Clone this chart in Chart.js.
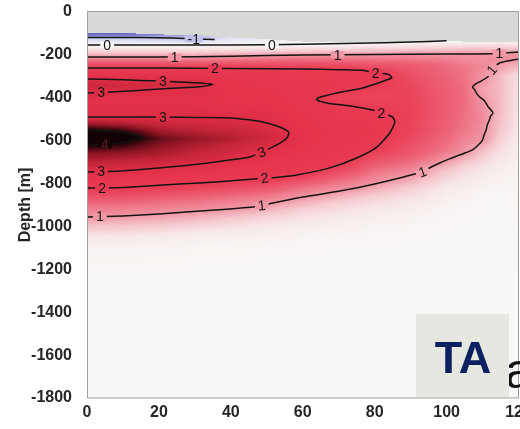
<!DOCTYPE html>
<html>
<head>
<meta charset="utf-8">
<script src="https://cdn.jsdelivr.net/npm/chart.js@4.4.1/dist/chart.umd.min.js"></script>
<style>
  html, body { margin: 0; padding: 0; overflow: hidden; background: #ffffff; }
  #wrap { position: relative; width: 532px; height: 429px; }
</style>
</head>
<body>
<div id="wrap"><canvas id="chart"></canvas></div>
<script>
// Axis ticks: distance along the section and depth (m)
const distanceTicks = [0, 20, 40, 60, 80, 100, 120];
const depthTicks = [0, -200, -400, -600, -800, -1000, -1200, -1400, -1600, -1800];

// Anomaly profiles: one per station column, [depth, value] knots from the top of the data down
const stationX = [0, 10, 20, 30, 40, 50, 60, 70, 80, 90, 100, 105, 110, 115, 120];
const prof000 = [[-98,-1.95],[-110,-1.6],[-119,-1],[-154,0],[-190,0.6],[-210,1],[-261,2],[-290,2.6],[-312,3],[-345,3.2],[-378,3],[-420,2.75],[-490,3],[-550,4],[-585,4.4],[-622,4],[-660,3.6],[-746,3],[-821,2],[-900,1.3],[-956,1],[-1000,0.65],[-1050,0.25],[-1110,0.05],[-1300,0]];
const prof010 = [[-98,-1.9],[-110,-1.55],[-119,-1],[-154,0],[-190,0.6],[-210,1],[-261,2],[-292,2.6],[-316,3],[-345,3.15],[-370,3],[-425,2.75],[-490,3],[-562,4],[-585,4.2],[-608,4],[-660,3.55],[-740,3],[-818,2],[-900,1.3],[-951,1],[-1000,0.62],[-1050,0.24],[-1110,0.05],[-1300,0]];
const prof020 = [[-104,-1.5],[-121,-1],[-154,0],[-190,0.6],[-210,1],[-261,2],[-295,2.6],[-322,3],[-340,3.1],[-359,3],[-425,2.75],[-490,3],[-590,3.75],[-670,3.4],[-727,3],[-808,2],[-890,1.3],[-942,1],[-995,0.6],[-1045,0.22],[-1100,0.05],[-1300,0]];
const prof030 = [[-110,-1.2],[-127,-1],[-154,0],[-190,0.6],[-210,1],[-262,2],[-300,2.65],[-330,3],[-339,3.05],[-348,3],[-425,2.75],[-492,3],[-590,3.55],[-680,3.2],[-711,3],[-798,2],[-880,1.3],[-930,1],[-985,0.58],[-1035,0.2],[-1095,0.04],[-1300,0]];
const prof040 = [[-118,-0.6],[-154,0],[-188,0.6],[-206,1],[-263,2],[-310,2.55],[-430,2.7],[-494,3],[-590,3.4],[-690,3],[-787,2],[-865,1.3],[-917,1],[-970,0.55],[-1025,0.2],[-1090,0.04],[-1300,0]];
const prof050 = [[-126,-0.35],[-153,0],[-186,0.6],[-204,1],[-265,2],[-330,2.5],[-420,2.65],[-518,3],[-585,3.2],[-642,3],[-774,2],[-850,1.3],[-897,1],[-955,0.5],[-1015,0.18],[-1085,0.03],[-1300,0]];
const prof060 = [[-138,-0.1],[-150,0],[-183,0.6],[-200,1],[-266,2],[-350,2.4],[-450,2.5],[-590,2.8],[-754,2],[-818,1.3],[-863,1],[-925,0.5],[-995,0.18],[-1070,0.03],[-1300,0]];
const prof070 = [[-142,-0.05],[-147,0],[-181,0.6],[-199,1],[-269,2],[-320,2.2],[-376,2],[-405,1.85],[-432,2],[-560,2.4],[-712,2],[-790,1.3],[-836,1],[-895,0.5],[-970,0.18],[-1050,0.03],[-1300,0]];
const prof080 = [[-140,-0.05],[-143,0],[-178,0.6],[-198,1],[-282,2],[-308,2.1],[-335,2],[-400,1.8],[-460,2],[-540,2.2],[-635,2],[-740,1.3],[-802,1],[-865,0.5],[-940,0.18],[-1030,0.03],[-1300,0]];
const prof090 = [[-138,-0.03],[-140,0],[-175,0.6],[-196,1],[-250,1.55],[-330,1.75],[-450,1.85],[-560,1.8],[-660,1.55],[-760,1],[-820,0.55],[-900,0.2],[-1000,0.03],[-1300,0]];
const prof100 = [[-135,0],[-172,0.6],[-196,1],[-250,1.35],[-400,1.5],[-550,1.45],[-640,1.25],[-691,1],[-750,0.55],[-830,0.2],[-940,0.03],[-1300,0]];
const prof105 = [[-138,0.05],[-170,0.6],[-194,1],[-260,1.25],[-400,1.35],[-550,1.25],[-658,1],[-720,0.5],[-800,0.2],[-900,0.03],[-1300,0]];
const prof110 = [[-138,0.1],[-170,0.6],[-195,1],[-250,1.1],[-319,1],[-365,0.9],[-413,1],[-500,1.1],[-597,1],[-660,0.6],[-740,0.25],[-850,0.03],[-1300,0]];
const prof115 = [[-138,0.15],[-170,0.6],[-192,1],[-215,1.05],[-236,1],[-300,0.7],[-450,0.72],[-560,0.6],[-650,0.35],[-750,0.12],[-850,0.02],[-1300,0]];
const prof120 = [[-138,0.1],[-170,0.6],[-189,1],[-205,1.02],[-219,1],[-300,0.35],[-500,0.3],[-650,0.15],[-800,0.04],[-1300,0]];
const profiles = [prof000, prof010, prof020, prof030, prof040, prof050, prof060, prof070, prof080, prof090, prof100, prof105, prof110, prof115, prof120];

// Contour lines, [distance, depth] vertices
const contourNeg1 = [[0,-119],[15,-119],[24,-121],[30,-126],[35.5,-128]];
const contour0 = [[0,-154],[30,-154],[50,-153],[60,-150],[75,-146],[90,-140],[100,-134]];
const contour1Top = [[0,-210],[20,-210],[40,-206],[60,-200],[80,-198],[100,-196],[112,-195],[120,-186]];
const contour1Low = [[120,-219],[117,-228],[114.7,-238],[113,-262],[112.4,-285],[111.4,-303],[109.6,-322],[108,-336],[107.2,-350],[107.8,-362],[108.3,-378],[109.2,-396],[110.6,-415],[111.2,-432],[111.6,-443],[112.4,-458],[112.9,-471],[112.2,-487],[111.9,-504],[111.3,-527],[111.0,-550],[110.4,-575],[110,-597],[108.8,-620],[107.2,-643],[105.5,-655],[103.6,-667],[100.8,-685],[98.1,-704],[95.5,-725],[93.3,-746],[90,-760],[86.9,-774],[80,-802],[70.3,-835],[60,-863],[51.7,-891],[46.1,-909],[31.4,-928],[20,-942],[10,-951],[0,-956]];
const contour2 = [[0,-821],[10,-818],[20,-808],[31.4,-797],[42,-785],[49.4,-774],[51.7,-773],[58.3,-760],[67.5,-727],[75,-681],[80.6,-630],[84.2,-564],[85.6,-513],[85,-490],[81.9,-471],[79.4,-457],[75,-443],[66.7,-424],[63.9,-410],[64.2,-401],[69.4,-378],[76.7,-354],[84.7,-308],[84.2,-294],[82.5,-287],[80.3,-284],[76.7,-272],[70,-269],[60,-266],[40,-263],[20,-261],[0,-261]];
const contour3Upper = [[0,-312],[10,-316],[20,-322],[31.4,-331],[35,-337],[31.4,-349],[20,-359],[8,-372],[0,-378]];
const contour3Lower = [[0,-490],[20,-490],[31.4,-492],[40,-494],[45,-503],[48.9,-513],[53.6,-536],[56.1,-560],[55.6,-588],[52.8,-620],[48.6,-653],[45.3,-676],[39.7,-690],[31.4,-709],[20,-727],[9.2,-741],[0,-746]];
const contour4 = [[0,-550],[7,-555],[12,-567],[15.3,-585],[12,-603],[7,-615],[0,-622]];

// Inline contour labels
const labelText  = ['-1','0','0','1','1','1','1','1','1','1','2','2','2','2','2','3','3','3','3','3','4'];
const labelX     = [29.7, 5.6, 51.4, 24.4, 69.7, 114.7, 112.6, 93.3, 48.6, 3.6, 35.6, 80.3, 81.9, 49.4, 4.2, 21.1, 3.9, 21.1, 48.6, 3.9, 5];
const labelDepth = [-125, -154, -153, -210, -199, -191, -270, -746, -901, -954, -263, -284, -471, -774, -820, -323, -375, -490, -653, -744, -617];
const labelAngle = [0, 0, 0, 0, 0, 0, -50, -20, -5, 0, 0, 0, 0, -8, 0, 0, 0, 0, -20, 0, 0];

// Diverging colour scale: blue (negative) - white - red - black
const colourStops = [
  [-2.0, [95, 95, 190]],
  [-1.5, [130, 130, 210]],
  [-1.0, [195, 195, 235]],
  [-0.5, [228, 228, 243]],
  [0.0, [248, 247, 245]],
  [0.3, [247, 228, 230]],
  [0.6, [245, 200, 207]],
  [1.0, [241, 150, 163]],
  [1.4, [237, 100, 120]],
  [1.8, [234, 68, 92]],
  [2.0, [232, 58, 82]],
  [2.6, [230, 52, 77]],
  [3.0, [222, 46, 70]],
  [3.3, [195, 36, 56]],
  [3.6, [140, 20, 35]],
  [3.9, [50, 6, 12]],
  [4.0, [18, 2, 5]]
];
const maskColour = [215, 217, 214];

function colourFor(v) {
  if (v <= colourStops[0][0]) return colourStops[0][1];
  for (let k = 1; k < colourStops.length; k++) {
    if (v <= colourStops[k][0]) {
      const [v0, c0] = colourStops[k - 1], [v1, c1] = colourStops[k];
      const t = (v - v0) / (v1 - v0);
      return [c0[0] + (c1[0] - c0[0]) * t, c0[1] + (c1[1] - c0[1]) * t, c0[2] + (c1[2] - c0[2]) * t];
    }
  }
  return colourStops[colourStops.length - 1][1];
}

function profileAt(p, d) {
  if (d >= p[0][0]) return p[0][1];
  for (let k = 1; k < p.length; k++) {
    if (d >= p[k][0]) {
      const [d0, v0] = p[k - 1], [d1, v1] = p[k];
      return v0 + (v1 - v0) * (d - d0) / (d1 - d0);
    }
  }
  return p[p.length - 1][1];
}

// Field value at (distance, depth); null above the top of the data
function fieldAt(x, d) {
  let i = 0;
  while (i < stationX.length - 2 && x > stationX[i + 1]) i++;
  let t = (x - stationX[i]) / (stationX[i + 1] - stationX[i]);
  t = Math.max(0, Math.min(1, t));
  const pa = profiles[i], pb = profiles[i + 1];
  const top = pa[0][0] * (1 - t) + pb[0][0] * t;
  if (d > top) return null;
  return profileAt(pa, d) * (1 - t) + profileAt(pb, d) * t;
}

const toPoints = arr => arr.map(([x, y]) => ({ x, y }));
const contourSets = [contourNeg1, contour0, contour1Top, contour1Low, contour2, contour3Upper, contour3Lower, contour4];

const fieldPlugin = {
  id: 'field',
  beforeDatasetsDraw(chart) {
    const { ctx, chartArea: a, scales: { x, y } } = chart;
    const w = Math.round(a.right - a.left), h = Math.round(a.bottom - a.top);
    const off = document.createElement('canvas');
    off.width = w; off.height = h;
    const octx = off.getContext('2d');
    const img = octx.createImageData(w, h);
    for (let j = 0; j < h; j++) {
      const d = y.getValueForPixel(a.top + j + 0.5);
      for (let i = 0; i < w; i++) {
        const xv = x.getValueForPixel(a.left + i + 0.5);
        const v = fieldAt(xv, d);
        const c = v === null ? maskColour : colourFor(v);
        const k = (j * w + i) * 4;
        img.data[k] = c[0]; img.data[k + 1] = c[1]; img.data[k + 2] = c[2]; img.data[k + 3] = 255;
      }
    }
    octx.putImageData(img, 0, 0);
    ctx.drawImage(off, a.left, a.top);
  },
  afterDatasetsDraw(chart) {
    const { ctx, chartArea: a, scales: { x, y } } = chart;
    ctx.save();
    ctx.beginPath();
    ctx.rect(a.left, a.top, a.right - a.left, a.bottom - a.top);
    ctx.clip();
    ctx.font = '14px "Liberation Sans", Arial, sans-serif';
    ctx.textAlign = 'center';
    ctx.textBaseline = 'middle';
    labelText.forEach((txt, n) => {
      const px = x.getPixelForValue(labelX[n]);
      const py = y.getPixelForValue(labelDepth[n]);
      const v = fieldAt(labelX[n], labelDepth[n]);
      const c = v === null ? maskColour : colourFor(v);
      ctx.save();
      ctx.translate(px, py);
      ctx.rotate(labelAngle[n] * Math.PI / 180);
      const tw = ctx.measureText(txt).width;
      ctx.fillStyle = `rgb(${c[0] | 0},${c[1] | 0},${c[2] | 0})`;
      ctx.fillRect(-tw / 2 - 3, -3.5, tw + 6, 7);
      ctx.fillStyle = v !== null && v > 3.8 ? '#5a1c24' : '#151515';
      ctx.fillText(txt, 0, 1);
      ctx.restore();
    });
    ctx.restore();
  },
  afterDraw(chart) {
    const { ctx, chartArea: a } = chart;
    ctx.save();
    ctx.strokeStyle = '#a0a0a0';
    ctx.lineWidth = 1;
    ctx.strokeRect(Math.round(a.left) + 0.5, Math.round(a.top) - 0.5, Math.round(a.right - a.left) - 1, Math.round(a.bottom - a.top) + 0.5);
    // letter partly hidden behind the panel tag
    ctx.fillStyle = '#111111';
    ctx.font = '50px "Liberation Sans", Arial, sans-serif';
    ctx.textAlign = 'left';
    ctx.textBaseline = 'alphabetic';
    ctx.fillText('a', 505, 388);
    // panel tag
    ctx.fillStyle = 'rgb(231,231,225)';
    ctx.fillRect(416, 314, 93, 83);
    ctx.fillStyle = 'rgb(10,32,96)';
    ctx.font = 'bold 45px "Liberation Sans", Arial, sans-serif';
    ctx.textAlign = 'center';
    ctx.fillText('TA', 463, 373);
    ctx.restore();
  }
};

const tickFont = { family: '"Liberation Sans", Arial, sans-serif', size: 16, weight: 'bold' };

new Chart(document.getElementById('chart'), {
  type: 'scatter',
  data: {
    datasets: contourSets.map(arr => ({
      data: toPoints(arr),
      showLine: true,
      borderColor: '#141414',
      borderWidth: 1.5,
      pointRadius: 0,
      tension: 0.2,
      fill: false
    }))
  },
  options: {
    responsive: true,
    maintainAspectRatio: false,
    animation: false,
    events: [],
    layout: { padding: 0 },
    plugins: { legend: { display: false }, tooltip: { enabled: false } },
    scales: {
      x: {
        type: 'linear', min: 0, max: 120,
        grid: { display: false }, border: { display: false },
        afterBuildTicks: s => { s.ticks = distanceTicks.map(v => ({ value: v })); },
        afterFit: s => { s.height = 31; s.paddingLeft = 0; s.paddingRight = 13.5; },
        ticks: { font: tickFont, color: '#262626', padding: -3, maxRotation: 0, autoSkip: false, callback: v => String(v) }
      },
      y: {
        type: 'linear', min: -1800, max: 0,
        grid: { display: false }, border: { display: false },
        afterBuildTicks: s => { s.ticks = depthTicks.map(v => ({ value: v })); },
        afterFit: s => { s.width = 87; s.paddingTop = 12; s.paddingBottom = 0; },
        ticks: { font: tickFont, color: '#262626', padding: 7, autoSkip: false, callback: v => String(v) },
        title: { display: true, text: 'Depth [m]', font: tickFont, color: '#262626', padding: { top: 16, bottom: 0 } }
      }
    }
  },
  plugins: [fieldPlugin]
});
</script>
</body>
</html>
